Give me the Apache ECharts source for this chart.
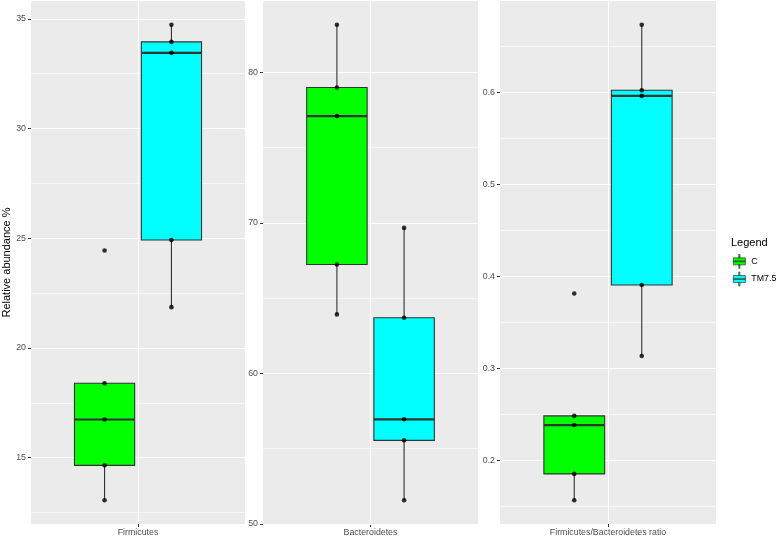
<!DOCTYPE html>
<html><head><meta charset="utf-8">
<script src="https://cdn.jsdelivr.net/npm/echarts@6/dist/echarts.min.js"></script>
<style>html,body{margin:0;padding:0;background:#fff}#c{width:778px;height:538px}</style>
</head><body><div id="c"></div>
<script>
// ---- data ----
const groups = ['C', 'TM7.5'];
const panels = ['Firmicutes', 'Bacteroidetes', 'Firmicutes/Bacteroidetes ratio'];
const firmicutesC = [13.06, 14.65, 16.74, 18.39, 24.44];
const firmicutesTM = [21.86, 24.92, 33.45, 33.95, 34.73];
const bacteroidetesC = [63.92, 67.24, 77.10, 79.00, 83.17];
const bacteroidetesTM = [51.57, 55.55, 56.95, 63.70, 69.67];
const ratioC = [0.157, 0.1856, 0.2387, 0.2487, 0.3816];
const ratioTM = [0.3138, 0.3909, 0.5964, 0.6025, 0.6737];
const majorTicks = [[15, 20, 25, 30, 35], [50, 60, 70, 80], [0.2, 0.3, 0.4, 0.5, 0.6]];
const minorTicks = [[12.5, 17.5, 22.5, 27.5, 32.5], [55, 65, 75], [0.15, 0.25, 0.35, 0.45, 0.55, 0.65]];
const tickLabels = [['15', '20', '25', '30', '35'], ['50', '60', '70', '80'], ['0.2', '0.3', '0.4', '0.5', '0.6']];

const panelData = [[firmicutesC, firmicutesTM], [bacteroidetesC, bacteroidetesTM], [ratioC, ratioTM]];

// ---- styles / layout ----
const COLORS = ['#00FF00', '#00FFFF'];
const DODGE = 0.1875, BOXW = 0.3375;
const FONT = "'Liberation Sans', Arial, Helvetica, sans-serif";
const gridPos = [{left: 27, width: 218}, {left: 263, width: 215}, {left: 500, width: 216}];

function q7(s, p) { const h = (s.length - 1) * p, lo = Math.floor(h), hi = Math.min(lo + 1, s.length - 1); return s[lo] + (h - lo) * (s[hi] - s[lo]); }
function stats(vals) {
  const s = vals.slice().sort((a, b) => a - b);
  const q1 = q7(s, 0.25), med = q7(s, 0.5), q3 = q7(s, 0.75), iqr = q3 - q1;
  const inside = s.filter(v => v >= q1 - 1.5 * iqr && v <= q3 + 1.5 * iqr);
  return [Math.min(...inside), q1, med, q3, Math.max(...inside)];
}

const grids = [], xAxes = [], yAxes = [], series = [];
panelData.forEach((pd, i) => {
  const all = pd[0].concat(pd[1]);
  const mn = Math.min(...all), mx = Math.max(...all), r = mx - mn;
  grids.push({left: gridPos[i].left, width: gridPos[i].width, top: 1, height: 523, show: true, backgroundColor: '#EBEBEB', borderWidth: 0, containLabel: false});
  xAxes.push({
    type: 'value', gridIndex: i, min: 0.4, max: 1.6,
    axisLine: {show: false}, splitLine: {show: false},
    axisTick: {show: true, customValues: [1], length: 3, lineStyle: {color: '#333', width: 1}},
    axisLabel: {show: true, customValues: [1], formatter: () => panels[i], color: '#4D4D4D', fontSize: 8.8, fontFamily: FONT, margin: 4}
  });
  yAxes.push({
    type: 'value', gridIndex: i, min: mn - 0.05 * r, max: mx + 0.05 * r,
    axisLine: {show: false}, splitLine: {show: false},
    axisTick: {show: true, customValues: majorTicks[i], length: 3, lineStyle: {color: '#333', width: 1}},
    axisLabel: {show: true, customValues: majorTicks[i], formatter: v => tickLabels[i][majorTicks[i].findIndex(t => Math.abs(t - v) < 1e-9)], color: '#4D4D4D', fontSize: 8.8, fontFamily: FONT, margin: 5},
    name: i === 0 ? 'Relative abundance %' : '', nameLocation: 'middle', nameGap: 19, nameRotate: 90,
    nameTextStyle: {color: '#000', fontSize: 11, fontFamily: FONT}
  });
  // gridlines
  series.push({
    type: 'line', xAxisIndex: i, yAxisIndex: i, data: [[1, mn]], showSymbol: false, silent: true, z: 1,
    lineStyle: {opacity: 0},
    markLine: {
      silent: true, symbol: 'none', label: {show: false}, animation: false, z: 1,
      lineStyle: {color: '#FFFFFF', type: 'solid'},
      data: minorTicks[i].map(v => ({yAxis: v, lineStyle: {width: 0.6, color: '#FFFFFF', type: 'solid'}}))
        .concat(majorTicks[i].map(v => ({yAxis: v, lineStyle: {width: 1.1, color: '#FFFFFF', type: 'solid'}})))
        .concat([{xAxis: 1, lineStyle: {width: 1.1, color: '#FFFFFF', type: 'solid'}}])
    }
  });
  // boxes
  pd.forEach((vals, gi) => {
    const st = stats(vals);
    series.push({
      type: 'custom', name: groups[gi], xAxisIndex: i, yAxisIndex: i, z: 3,
      itemStyle: {color: COLORS[gi]},
      data: [[gi].concat(st)],
      renderItem: (params, api) => {
        const g = api.value(0);
        const xc = 1 + (g === 0 ? -DODGE : DODGE);
        const xl = api.coord([xc - BOXW / 2, 0])[0], xr = api.coord([xc + BOXW / 2, 0])[0], xm = api.coord([xc, 0])[0];
        const y = k => api.coord([xc, api.value(k)])[1];
        const lo = y(1), q1 = y(2), md = y(3), q3 = y(4), hi = y(5);
        const ch = [];
        if (hi < q3 - 0.1) ch.push({type: 'line', shape: {x1: xm, y1: q3, x2: xm, y2: hi}, style: {stroke: '#333', lineWidth: 1.1}});
        if (lo > q1 + 0.1) ch.push({type: 'line', shape: {x1: xm, y1: q1, x2: xm, y2: lo}, style: {stroke: '#333', lineWidth: 1.1}});
        ch.push({type: 'rect', shape: {x: xl, y: q3, width: xr - xl, height: q1 - q3}, style: {fill: COLORS[g], stroke: '#333', lineWidth: 1.1}});
        ch.push({type: 'line', shape: {x1: xl, y1: md, x2: xr, y2: md}, style: {stroke: '#333', lineWidth: 2.2}});
        return {type: 'group', children: ch};
      }
    });
  });
  // points
  series.push({
    type: 'scatter', xAxisIndex: i, yAxisIndex: i, z: 5, silent: true,
    symbol: 'circle', symbolSize: 4.6, itemStyle: {color: '#000'},
    data: pd[0].map(v => [1 - DODGE, v]).concat(pd[1].map(v => [1 + DODGE, v]))
  });
});

const chart = echarts.init(document.getElementById('c'), null, {renderer: 'canvas'});
chart.setOption({
  animation: false,
  backgroundColor: '#FFFFFF',
  title: {text: 'Legend', left: 731, top: 237, padding: 0, textStyle: {fontSize: 11, fontWeight: 'normal', color: '#000', fontFamily: FONT}},
  legend: {
    data: groups, orient: 'vertical', left: 733, top: 254, itemWidth: 12, itemHeight: 14, itemGap: 3, padding: 0,
    icon: 'path://M5.4,0 h1.2 v3.5 h-1.2 Z M0,3.5 h12 v7 h-12 Z M0,6.6 h12 v0.8 h-12 Z M5.4,10.5 h1.2 v3.5 h-1.2 Z',
    itemStyle: {borderColor: '#333', borderWidth: 0.7},
    textStyle: {fontSize: 8.8, color: '#000', fontFamily: FONT, padding: [0, 0, 0, 1]},
    selectedMode: false
  },
  grid: grids, xAxis: xAxes, yAxis: yAxes, series: series
});
</script></body></html>
